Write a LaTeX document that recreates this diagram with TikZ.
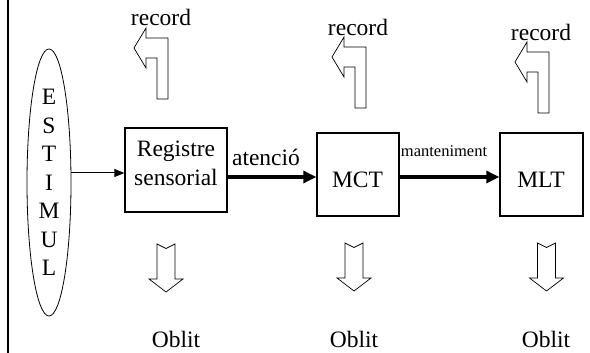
\documentclass[tikz,border=0pt]{standalone}
\usepackage{fontspec}
\setmainfont{Liberation Serif}
\usetikzlibrary{shapes.geometric,arrows.meta,calc}

\begin{document}
\begin{tikzpicture}[x=1pt,y=-1pt,
  lbl/.style={font=\fontsize{23.5}{29}\selectfont, inner sep=0pt, align=center},
  smalllbl/.style={font=\fontsize{16.5}{20}\selectfont, inner sep=0pt},
  stagebox/.style={draw, line width=1.3pt, rectangle, inner sep=0pt},
  thinarrow/.style={line width=1pt, -{Triangle[length=10pt,width=8pt]}},
  thickarrow/.style={line width=3pt, -{Triangle[length=13pt,width=12pt]}},
  outline/.style={draw, line width=0.7pt, line join=miter},
  recarrow/.pic={
    \path[outline] (34,51) -- (34,-10) -- (12,-10) -- (12,-20) -- (0,0)
      -- (12,20) -- (12,10) -- (23,10) -- (23,51) -- cycle;
  },
  lossarrow/.pic={
    \path[outline] (-9,0) -- (0,4.5) -- (9,0) -- (9,35) -- (17,35) -- (0,48)
      -- (-17,35) -- (-9,35) -- cycle;
  }
]
\useasboundingbox (0,0) rectangle (590,353);

% left frame line
\coordinate (ftop) at (8,0);
\coordinate (fbot) at (8,353);
\draw[line width=2pt] (ftop) -- (fbot);

% stimulus ellipse
\node[draw, ellipse, line width=0.8pt, minimum width=44pt, minimum height=267pt,
  inner sep=0pt, font=\fontsize{23.5}{28.5}\selectfont, align=center]
  (stim) at (49,182.5) {E\\S\\T\\I\\M\\U\\L};

% memory stages
\node[stagebox, minimum width=102pt, minimum height=84pt] (reg) at (176,170) {};
\node[stagebox, minimum width=82pt, minimum height=83pt] (mct) at (358,174.5) {};
\node[stagebox, minimum width=83pt, minimum height=83pt] (mlt) at (541.5,174.5) {};
\node[lbl] (regtxt) at (176,163) {Registre\\sensorial};
\node[lbl] (mcttxt) at (357.5,180) {MCT};
\node[lbl] (mlttxt) at (541,180) {MLT};

% flow between stages
\draw[thinarrow] ($(stim.east |- reg.west)+(0,3)$) -- ($(reg.west)+(0,3)$);
\draw[thickarrow] ($(reg.east |- mct.west)+(0,2.5)$) -- ($(mct.west)+(0,2.5)$);
\draw[thickarrow] ($(mct.east)+(0,2.5)$) -- ($(mlt.west)+(0,2.5)$);

\node[lbl] (lat) at (266,157) {atenció};
\node[smalllbl] (lman) at (444,151) {manteniment};

% retrieval arrows
\pic at (134,48) {recarrow};
\pic at (332,57) {recarrow};
\pic at (515,62) {recarrow};
\node[lbl] (rec1) at (161,17) {record};
\node[lbl] (rec2) at (358,27) {record};
\node[lbl] (rec3) at (541,32) {record};

% forgetting arrows
\pic at (166,244) {lossarrow};
\pic at (354,243) {lossarrow};
\pic at (546.5,243) {lossarrow};
\node[lbl] (obl1) at (176,339) {Oblit};
\node[lbl] (obl2) at (354,339) {Oblit};
\node[lbl] (obl3) at (546,339) {Oblit};
\end{tikzpicture}
\end{document}
